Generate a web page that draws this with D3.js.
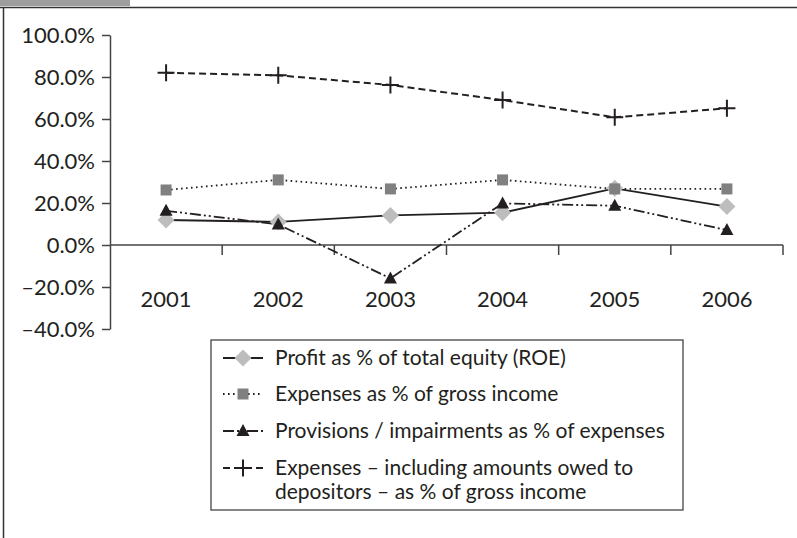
<!DOCTYPE html>
<html>
<head>
<meta charset="utf-8">
<script src="https://cdnjs.cloudflare.com/ajax/libs/d3/7.8.5/d3.min.js"></script>
<style>
  body { margin: 0; background: #fff; }
  svg text { font-family: Lato, "Noto Sans", sans-serif; fill: #231f20; }
</style>
</head>
<body>
<div id="chart"></div>
<script>
// ---------------------------------------------------------------------------
// data
// ---------------------------------------------------------------------------
const years = ['2001', '2002', '2003', '2004', '2005', '2006'];
const yTicks = [-40, -20, 0, 20, 40, 60, 80, 100];

const roe = [11.9, 11.0, 14.1, 15.4, 27.0, 18.3];
const expensesGross = [26.2, 31.0, 26.7, 31.0, 26.7, 26.7];
const provisions = [16.3, 9.8, -15.9, 19.8, 18.7, 7.1];
const expensesInclDepositors = [82.0, 80.8, 76.2, 69.0, 60.8, 65.1];

const seriesNames = [
    ['Profit as % of total equity (ROE)'],
    ['Expenses as % of gross income'],
    ['Provisions / impairments as % of expenses'],
    ['Expenses \u2013 including amounts owed to', 'depositors \u2013 as % of gross income'],
];

// ---------------------------------------------------------------------------
// styles
// ---------------------------------------------------------------------------
const series = [
    { values: roe, dash: null, marker: 'diamond', fill: '#bdbdbd', width: 1.8 },
    { values: expensesGross, dash: '1.6 3.4', marker: 'square', fill: '#808080', width: 1.8 },
    { values: provisions, dash: '11 3 2 3 2 3', marker: 'triangle', fill: '#231f20', width: 1.8 },
    { values: expensesInclDepositors, dash: '7 4', marker: 'plus', fill: '#231f20', width: 2 },
];
series.forEach((s, i) => s.name = seriesNames[i]);

const W = 797, H = 538;
const FONT = 21;
const svg = d3.select('#chart').append('svg')
    .attr('width', W).attr('height', H);

// frame
svg.append('rect').attr('x', 0).attr('y', 0).attr('width', 130).attr('height', 6).attr('fill', '#9d9d9d');
svg.append('line').attr('x1', 0).attr('x2', W).attr('y1', 7.5).attr('y2', 7.5)
    .attr('stroke', '#333').attr('stroke-width', 1.5);
svg.append('line').attr('x1', 3.5).attr('x2', 3.5).attr('y1', 7).attr('y2', H)
    .attr('stroke', '#333').attr('stroke-width', 1.5);

const x = d3.scaleBand().domain(years).range([110, 783]);
const y = d3.scaleLinear().domain([-40, 100]).range([329, 35]);

const fmt = v => (v < 0 ? '\u2013' + Math.abs(v).toFixed(1) : v.toFixed(1)) + '%';

// y axis
const yAxis = svg.append('g').attr('transform', 'translate(110,0)')
    .call(d3.axisLeft(y).tickValues(yTicks).tickFormat(fmt).tickSize(8).tickSizeOuter(0).tickPadding(7));
yAxis.select('.domain').attr('stroke', '#444').attr('stroke-width', 1.5);
yAxis.selectAll('.tick line').attr('stroke', '#444').attr('stroke-width', 1.5);
yAxis.selectAll('.tick text').attr('font-size', 22).attr('fill', '#231f20')
    .style('font-family', 'Lato, sans-serif');

// x axis along zero
const xAxisG = svg.append('g').attr('transform', `translate(0,${y(0)})`);
xAxisG.append('line').attr('x1', 110).attr('x2', 783).attr('stroke', '#444').attr('stroke-width', 1.5);
xAxisG.selectAll('.xtick').data(years.slice(1).concat(['end']))
    .enter().append('line')
    .attr('x1', d => d === 'end' ? x.range()[1] : x(d))
    .attr('x2', d => d === 'end' ? x.range()[1] : x(d))
    .attr('y1', 0).attr('y2', 10)
    .attr('stroke', '#444').attr('stroke-width', 1.5);
svg.selectAll('.xlabel').data(years).enter().append('text')
    .attr('x', d => x(d) + x.bandwidth() / 2)
    .attr('y', y(0) + 62)
    .attr('text-anchor', 'middle')
    .attr('font-size', 22)
    .text(d => d);

// markers
function drawMarker(g, type, fill) {
    if (type === 'diamond') {
        g.append('path').attr('d', 'M0,-8.5L8.5,0L0,8.5L-8.5,0Z').attr('fill', fill);
    } else if (type === 'square') {
        g.append('rect').attr('x', -5.5).attr('y', -5.5).attr('width', 11).attr('height', 11).attr('fill', fill);
    } else if (type === 'triangle') {
        g.append('path').attr('d', 'M0,-7L6.5,5L-6.5,5Z').attr('fill', fill);
    } else if (type === 'plus') {
        g.append('path').attr('d', 'M-8.5,0H8.5M0,-8.5V8.5').attr('stroke', fill).attr('stroke-width', 2);
    }
}

const line = d3.line()
    .x((d, i) => x(years[i]) + x.bandwidth() / 2)
    .y(d => y(d));

series.forEach(s => {
    svg.append('path').datum(s.values)
        .attr('d', line)
        .attr('fill', 'none')
        .attr('stroke', '#231f20')
        .attr('stroke-width', s.width)
        .attr('stroke-dasharray', s.dash);
});
series.forEach(s => {
    s.values.forEach((v, i) => {
        const g = svg.append('g')
            .attr('transform', `translate(${x(years[i]) + x.bandwidth() / 2},${y(v)})`);
        drawMarker(g, s.marker, s.fill);
    });
});

// legend
const legend = svg.append('g').attr('transform', 'translate(211,340)');
legend.append('rect').attr('x', 0).attr('y', 0).attr('width', 472).attr('height', 170)
    .attr('fill', '#fff').attr('stroke', '#444').attr('stroke-width', 1.3);
const rowY = [18, 54, 91, 128];
series.forEach((s, i) => {
    const g = legend.append('g').attr('transform', `translate(0,${rowY[i]})`);
    g.append('line').attr('x1', 12).attr('x2', 52).attr('y1', 0).attr('y2', 0)
        .attr('stroke', '#231f20').attr('stroke-width', s.width)
        .attr('stroke-dasharray', s.dash);
    const m = g.append('g').attr('transform', 'translate(32,0)');
    drawMarker(m, s.marker, s.fill);
    s.name.forEach((t, j) => {
        g.append('text').attr('x', 64).attr('y', 7 + j * 24)
            .attr('font-size', FONT).text(t);
    });
});
</script>
</body>
</html>
